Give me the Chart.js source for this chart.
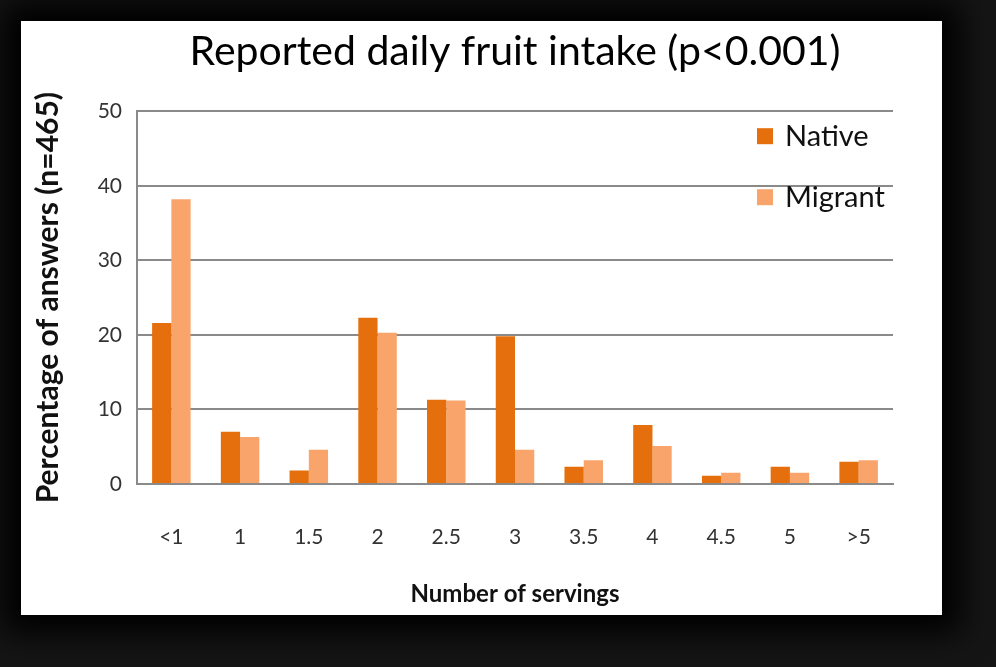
<!DOCTYPE html>
<html>
<head>
<meta charset="utf-8">
<script src="https://cdn.jsdelivr.net/npm/chart.js@4.4.0/dist/chart.umd.min.js"></script>
<style>
  html, body { margin: 0; padding: 0; }
  body { width: 996px; height: 667px; background: #151515; position: relative; overflow: hidden; }
  #panel {
    position: absolute; left: 21px; top: 21px; width: 921px; height: 594px;
    background: #fff; box-shadow: 0 0 30px 18px #000;
  }
</style>
</head>
<body>
<div id="panel"><canvas id="grafica" width="921" height="594"></canvas></div>
<script>
const categorias = ["<1", "1", "1.5", "2", "2.5", "3", "3.5", "4", "4.5", "5", ">5"];
const nativos = [21.6, 7.0, 1.8, 22.3, 11.3, 19.8, 2.3, 7.9, 1.1, 2.3, 3.0];
const migrantes = [38.2, 6.3, 4.6, 20.3, 11.2, 4.6, 3.2, 5.1, 1.5, 1.5, 3.2];
const series = ["Native", "Migrant"];
const colores = ["#E56F0C", "#F8A46B"];

// leyenda dibujada dentro del area del grafico, arriba a la derecha
const leyenda = {
  id: "leyenda",
  afterDraw(chart) {
    const { ctx, chartArea } = chart;
    ctx.save();
    ctx.font = "29px Lato";
    ctx.textBaseline = "middle";
    series.forEach((nombre, i) => {
      const x = chartArea.right - 136;
      const y = chartArea.top + 25 + i * 61;
      ctx.fillStyle = colores[i];
      ctx.fillRect(x, y - 8, 16, 16);
      ctx.fillStyle = "#111";
      ctx.fillText(nombre, x + 28, y);
    });
    ctx.restore();
  },
};

new Chart(document.querySelector("#grafica"), {
  type: "bar",
  data: {
    labels: categorias,
    datasets: [
      { label: series[0], data: nativos, backgroundColor: colores[0], borderWidth: 0 },
      { label: series[1], data: migrantes, backgroundColor: colores[1], borderWidth: 0 },
    ],
  },
  plugins: [leyenda],
  options: {
    responsive: false,
    animation: false,
    layout: { padding: 0 },
    datasets: { bar: { categoryPercentage: 0.56, barPercentage: 1 } },
    scales: {
      x: {
        grid: { display: false, drawTicks: false },
        border: { color: "#8a8a8a", width: 2 },
        ticks: { color: "#333", font: { family: "Lato", size: 21 }, padding: 41, maxRotation: 0, minRotation: 0 },
        title: {
          display: true,
          text: "Number of servings",
          color: "#111",
          font: { family: "Lato", size: 24, weight: "bold" },
          padding: { top: 0, bottom: 6 },
        },
        afterFit(scale) { scale.height = 131; },
      },
      y: {
        min: 0,
        max: 50,
        ticks: { stepSize: 10, color: "#333", font: { family: "Lato", size: 21 }, padding: 15 },
        grid: { color: "#8a8a8a", lineWidth: 2, drawTicks: false },
        border: { color: "#8a8a8a", width: 2 },
        title: {
          display: true,
          text: "Percentage of answers (n=465)",
          color: "#111",
          font: { family: "Lato", size: 30, weight: "bold" },
          padding: { top: 9, bottom: 0 },
        },
        afterFit(scale) { scale.width = 116; },
      },
      // eje vacio a la derecha, solo reserva margen
      margen: {
        position: "right",
        display: true,
        ticks: { display: false },
        grid: { display: false, drawTicks: false },
        border: { display: false },
        afterFit(scale) { scale.width = 49; },
      },
    },
    plugins: {
      legend: { display: false },
      tooltip: { enabled: false },
      title: {
        display: true,
        fullSize: false,
        text: "Reported daily fruit intake (p<0.001)",
        color: "#000",
        font: { family: "Lato", size: 41, weight: "normal" },
        padding: { top: 6, bottom: 35 },
      },
    },
  },
});
</script>
</body>
</html>
